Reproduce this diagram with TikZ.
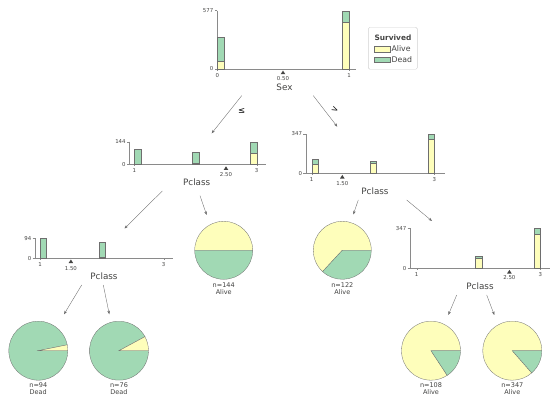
\documentclass[tikz,border=0pt]{standalone}
\usepackage{fontspec}
\setmainfont{DejaVu Sans}
\usetikzlibrary{arrows.meta}
\definecolor{txt}{HTML}{444443}
\definecolor{alivec}{HTML}{FEFEBB}
\definecolor{deadc}{HTML}{A1D9B4}
\definecolor{axc}{HTML}{8A8A8A}
\definecolor{edgec}{HTML}{6E6E6E}
\newcommand{\mkbar}[6]{%
  \filldraw[barY] (#1,#3) rectangle ({#1+#2},{#3-#5*#4});
  \filldraw[barG] (#1,{#3-#5*#4}) rectangle ({#1+#2},{#3-#6*#4});
}
\newcommand{\mktri}[2]{\fill[txt] (#1,#2) -- ({#1-2.3},{#2+3.6}) -- ({#1+2.3},{#2+3.6}) -- cycle;}
\begin{document}
\begin{tikzpicture}[x=1pt,y=-1pt,
  axisline/.style={draw=axc,line width=0.4pt},
  barY/.style={fill=alivec,draw=edgec,line width=0.3pt},
  barG/.style={fill=deadc,draw=edgec,line width=0.3pt},
  ticklbl/.style={text=txt,font=\fontsize{5.4}{6}\selectfont,inner sep=0pt},
  featlbl/.style={text=txt,font=\fontsize{8.8}{10}\selectfont,inner sep=0pt},
  leaflbl/.style={text=txt,font=\fontsize{6.5}{7.4}\selectfont,inner sep=0pt,align=center},
  conn/.style={draw=txt!80,line width=0.35pt,-{Stealth[length=3.6pt,width=2.6pt]}},
  edgelbl/.style={text=black,font=\fontsize{8.5}{9}\selectfont,inner sep=0pt},
  slice/.style={draw=edgec,line width=0.3pt}
]
\path[use as bounding box,fill=white] (0,0) rectangle (557,404);

% ===== Root: Sex =====
\draw[axisline] (217.3,10.7) -- (217.3,69) -- (355.7,69);
\draw[axisline] (215,10.7) -- (217.3,10.7) (215,69) -- (217.3,69);
\draw[axisline] (217.3,69) -- (217.3,71) (349,69) -- (349,71);
\mkbar{217.3}{7.3}{69}{0.10104}{81}{314}
\mkbar{341.7}{7.3}{69}{0.10104}{468}{577}
\node[ticklbl,anchor=east] (r577) at (213.5,10.7) {577};
\node[ticklbl,anchor=east] (r0) at (213.5,69) {0};
\node[ticklbl] (rx0) at (217.3,75.5) {0};
\node[ticklbl] (rx1) at (349,75.5) {1};
\mktri{283}{70.6}
\node[ticklbl] (rsplit) at (283,79) {0.50};
\node[featlbl] (sex) at (284.5,87) {Sex};

% ===== Legend =====
\node[draw=black!18,fill=white,rounded corners=1.5pt,line width=0.4pt,minimum width=49pt,minimum height=42pt,inner sep=0pt] (legend) at (392.8,48.3) {};
\node[text=txt,font=\bfseries\fontsize{7.4}{8}\selectfont,inner sep=0pt] (legtitle) at (393,37.7) {Survived};
\filldraw[barY] (374.3,46.3) rectangle (390,51.7);
\filldraw[barG] (374.3,56.7) rectangle (390,62);
\node[text=txt,font=\fontsize{7.8}{8}\selectfont,inner sep=0pt,anchor=west] (legalive) at (391.3,49) {Alive};
\node[text=txt,font=\fontsize{7.8}{8}\selectfont,inner sep=0pt,anchor=west] (legdead) at (391.3,59.4) {Dead};

% ===== Left: Pclass (split 2.50) =====
\draw[axisline] (129.3,141.7) -- (129.3,164.3) -- (265.7,164.3);
\draw[axisline] (127,141.7) -- (129.3,141.7) (127,164.3) -- (129.3,164.3);
\draw[axisline] (134.3,164.3) -- (134.3,166.3) (256.7,164.3) -- (256.7,166.3);
\mkbar{134.3}{6.5}{164.3}{0.15694}{3}{94}
\mkbar{192.2}{6.5}{164.3}{0.15694}{6}{76}
\mkbar{250.2}{6.5}{164.3}{0.15694}{72}{144}
\node[ticklbl,anchor=east] (l144) at (125.8,141.7) {144};
\node[ticklbl,anchor=east] (l0) at (125.8,164.3) {0};
\node[ticklbl] (lx1) at (134.3,170.8) {1};
\node[ticklbl] (lx3) at (256.7,170.8) {3};
\mktri{226}{166.3}
\node[ticklbl] (lsplit) at (226,174.5) {2.50};
\node[featlbl] (pl) at (196.7,182.3) {Pclass};

% ===== Right: Pclass (split 1.50) =====
\draw[axisline] (305.7,134) -- (305.7,173.3) -- (445,173.3);
\draw[axisline] (303.4,134) -- (305.7,134) (303.4,173.3) -- (305.7,173.3);
\draw[axisline] (311.7,173.3) -- (311.7,175.3) (434.3,173.3) -- (434.3,175.3);
\mkbar{311.7}{6.5}{173.3}{0.11326}{77}{122}
\mkbar{369.8}{6.5}{173.3}{0.11326}{91}{108}
\mkbar{427.8}{6.5}{173.3}{0.11326}{300}{347}
\node[ticklbl,anchor=east] (rt347) at (302.2,134) {347};
\node[ticklbl,anchor=east] (rt0) at (302.2,173.3) {0};
\node[ticklbl] (rtx1) at (311.7,179.8) {1};
\node[ticklbl] (rtx3) at (434.3,179.8) {3};
\mktri{342.3}{174.9}
\node[ticklbl] (rtsplit) at (342.3,183.4) {1.50};
\node[featlbl] (pr) at (375,191) {Pclass};

% ===== Left-left: Pclass (split 1.50) =====
\draw[axisline] (35,238.3) -- (35,258.3) -- (173.3,258.3);
\draw[axisline] (32.7,238.3) -- (35,238.3) (32.7,258.3) -- (35,258.3);
\draw[axisline] (40,258.3) -- (40,260.3) (163.7,258.3) -- (163.7,260.3);
\mkbar{40}{6.3}{258.3}{0.21277}{3}{94}
\mkbar{98.7}{6.3}{258.3}{0.21277}{6}{76}
\node[ticklbl,anchor=east] (ll94) at (31.5,238.3) {94};
\node[ticklbl,anchor=east] (ll0) at (31.5,258.3) {0};
\node[ticklbl] (llx1) at (40,264.8) {1};
\node[ticklbl] (llx3) at (163.7,264.8) {3};
\mktri{70.9}{259.5}
\node[ticklbl] (llsplit) at (70.9,268.3) {1.50};
\node[featlbl] (pll) at (104,276) {Pclass};

% ===== Right-right: Pclass (split 2.50) =====
\draw[axisline] (410,228.3) -- (410,268.3) -- (550,268.3);
\draw[axisline] (407.7,228.3) -- (410,228.3) (407.7,268.3) -- (410,268.3);
\draw[axisline] (416.7,268.3) -- (416.7,270.3) (540.3,268.3) -- (540.3,270.3);
\mkbar{475.2}{6.6}{268.3}{0.11527}{91}{108}
\mkbar{533.7}{6.6}{268.3}{0.11527}{300}{347}
\node[ticklbl,anchor=east] (rr347) at (406.5,228.3) {347};
\node[ticklbl,anchor=east] (rr0) at (406.5,268.3) {0};
\node[ticklbl] (rrx1) at (416.7,274.8) {1};
\node[ticklbl] (rrx3) at (540.3,274.8) {3};
\mktri{509.4}{269.9}
\node[ticklbl] (rrsplit) at (509.4,278) {2.50};
\node[featlbl] (prr) at (480,286.7) {Pclass};

% ===== Leaves (pies) =====
% n=144
\coordinate (c144) at (223.7,250.3);
\filldraw[slice,fill=alivec] (c144) -- ++(0:29pt) arc[start angle=0,end angle=180,radius=29pt] -- cycle;
\filldraw[slice,fill=deadc] (c144) -- ++(180:29pt) arc[start angle=180,end angle=360,radius=29pt] -- cycle;
\node[leaflbl] (l144lbl) at (223.7,288.8) {n=144\\Alive};
% n=122
\coordinate (c122) at (342.3,250.3);
\filldraw[slice,fill=alivec] (c122) -- ++(0:29pt) arc[start angle=0,end angle=227.2,radius=29pt] -- cycle;
\filldraw[slice,fill=deadc] (c122) -- ++(-132.8:29pt) arc[start angle=-132.8,end angle=0,radius=29pt] -- cycle;
\node[leaflbl] (l122lbl) at (342.3,288.8) {n=122\\Alive};
% n=94
\coordinate (c94) at (38.3,350.7);
\filldraw[slice,fill=deadc] (c94) -- ++(11.5:29.5pt) arc[start angle=11.5,end angle=360,radius=29.5pt] -- cycle;
\filldraw[slice,fill=alivec] (c94) -- ++(0:29.5pt) arc[start angle=0,end angle=11.5,radius=29.5pt] -- cycle;
\node[leaflbl] (l94lbl) at (38.3,388.5) {n=94\\Dead};
% n=76
\coordinate (c76) at (119,350.7);
\filldraw[slice,fill=deadc] (c76) -- ++(28.4:29.5pt) arc[start angle=28.4,end angle=360,radius=29.5pt] -- cycle;
\filldraw[slice,fill=alivec] (c76) -- ++(0:29.5pt) arc[start angle=0,end angle=28.4,radius=29.5pt] -- cycle;
\node[leaflbl] (l76lbl) at (119,388.5) {n=76\\Dead};
% n=108
\coordinate (c108) at (431,350.7);
\filldraw[slice,fill=alivec] (c108) -- ++(0:29.5pt) arc[start angle=0,end angle=303.3,radius=29.5pt] -- cycle;
\filldraw[slice,fill=deadc] (c108) -- ++(-56.7:29.5pt) arc[start angle=-56.7,end angle=0,radius=29.5pt] -- cycle;
\node[leaflbl] (l108lbl) at (431,388.5) {n=108\\Alive};
% n=347
\coordinate (c347) at (512.3,350.7);
\filldraw[slice,fill=alivec] (c347) -- ++(0:29.5pt) arc[start angle=0,end angle=311.2,radius=29.5pt] -- cycle;
\filldraw[slice,fill=deadc] (c347) -- ++(-48.8:29.5pt) arc[start angle=-48.8,end angle=0,radius=29.5pt] -- cycle;
\node[leaflbl] (l347lbl) at (512.3,388.5) {n=347\\Alive};

% ===== Connectors =====
\coordinate (sexL) at (241.7,95.7);   \coordinate (plTop) at (211.7,133.3);
\coordinate (sexR) at (313.3,95.7);   \coordinate (prTop) at (337.3,126.7);
\coordinate (plL) at (162.3,191);     \coordinate (pllTop) at (124.5,228.5);
\coordinate (plR) at (200,195.7);     \coordinate (p144Top) at (206.7,215);
\coordinate (prL) at (358.3,200);     \coordinate (p122Top) at (353.3,214.5);
\coordinate (prR) at (406.7,200);     \coordinate (prrTop) at (432,221);
\coordinate (pllL) at (81.7,285);     \coordinate (p94Top) at (64,314.3);
\coordinate (pllR) at (103.3,285);    \coordinate (p76Top) at (109.3,314.3);
\coordinate (prrL) at (456.7,295);    \coordinate (p108Top) at (448.3,315);
\coordinate (prrR) at (486.7,295);    \coordinate (p347Top) at (494.3,315);
\draw[conn] (sexL) -- (plTop);
\draw[conn] (sexR) -- (prTop);
\draw[conn] (plL) -- (pllTop);
\draw[conn] (plR) -- (p144Top);
\draw[conn] (prL) -- (p122Top);
\draw[conn] (prR) -- (prrTop);
\draw[conn] (pllL) -- (p94Top);
\draw[conn] (pllR) -- (p76Top);
\draw[conn] (prrL) -- (p108Top);
\draw[conn] (prrR) -- (p347Top);
\node[edgelbl] (le) at (241.7,111) {≤};
\node[edgelbl,rotate=-25] (gt) at (335,110) {>};
\end{tikzpicture}
\end{document}
